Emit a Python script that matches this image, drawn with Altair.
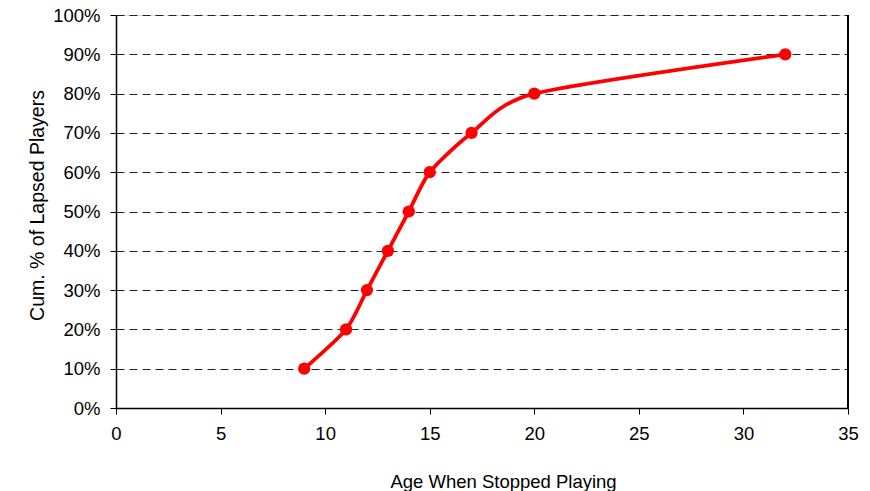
import altair as alt
import pandas as pd

# Age at which players stopped, and the cumulative share of lapsed players
ages = [9, 11, 12, 13, 14, 15, 17, 20, 32]
cum_share = [0.10, 0.20, 0.30, 0.40, 0.50, 0.60, 0.70, 0.80, 0.90]
x_ticks = [0, 5, 10, 15, 20, 25, 30, 35]
y_ticks = [0.0, 0.1, 0.2, 0.3, 0.4, 0.5, 0.6, 0.7, 0.8, 0.9, 1.0]

df = pd.DataFrame({"age": ages, "share": cum_share})

FONT = "Liberation Sans"
RED = "#FF0000"

x_enc = alt.X(
    "age:Q",
    scale=alt.Scale(domain=[0, 35], nice=False, zero=True),
    axis=alt.Axis(
        values=x_ticks,
        title="Age When Stopped Playing",
        grid=False,
        domainColor="black",
        domainWidth=1.5,
        tickColor="black",
        tickSize=6,
        labelFlush=False,
        labelOverlap=False,
        labelPadding=10,
        labelFontSize=18.5,
        titleFontSize=18.5,
        titleFontWeight="normal",
        titleX=387,
        titleY=79,
        titleAlign="center",
        titleBaseline="alphabetic",
    ),
)
y_enc = alt.Y(
    "share:Q",
    scale=alt.Scale(domain=[0, 1], nice=False),
    axis=alt.Axis(
        values=y_ticks,
        format=".0%",
        title="Cum. % of Lapsed Players",
        grid=True,
        gridColor="#222222",
        gridDash=[8, 5],
        gridWidth=1,
        domainColor="black",
        domainWidth=1.5,
        tickColor="black",
        tickSize=6,
        labelFlush=False,
        labelOverlap=False,
        labelPadding=10,
        labelFontSize=18.5,
        titleFontSize=19.5,
        titleFontWeight="normal",
        titleAngle=-90,
        titleX=-73,
        titleY=190,
        titleAlign="center",
        titleBaseline="alphabetic",
    ),
)

line = alt.Chart(df).mark_line(
    color=RED, strokeWidth=3.8, interpolate="cardinal", tension=0.3
).encode(x=x_enc, y=y_enc)

points = alt.Chart(df).mark_circle(color=RED, size=150, opacity=1).encode(
    x=x_enc, y=y_enc
)

# right-hand frame edge
right_edge = alt.Chart(df).mark_rule(color="black", strokeWidth=1.5).encode(
    x=alt.value(732), y=alt.value(0), y2=alt.value(393)
)

chart = (
    alt.layer(line, right_edge, points)
    .properties(
        width=732,
        height=393,
        autosize=alt.AutoSizeParams(type="none"),
        padding={"left": 116, "top": 15, "right": 22, "bottom": 83},
    )
    .configure_view(stroke=None)
    .configure_axis(labelFont=FONT, titleFont=FONT, labelColor="black", titleColor="black")
    .configure(background="white")
)

chart.save("out.html", embed_options={"renderer": "svg", "actions": False})
